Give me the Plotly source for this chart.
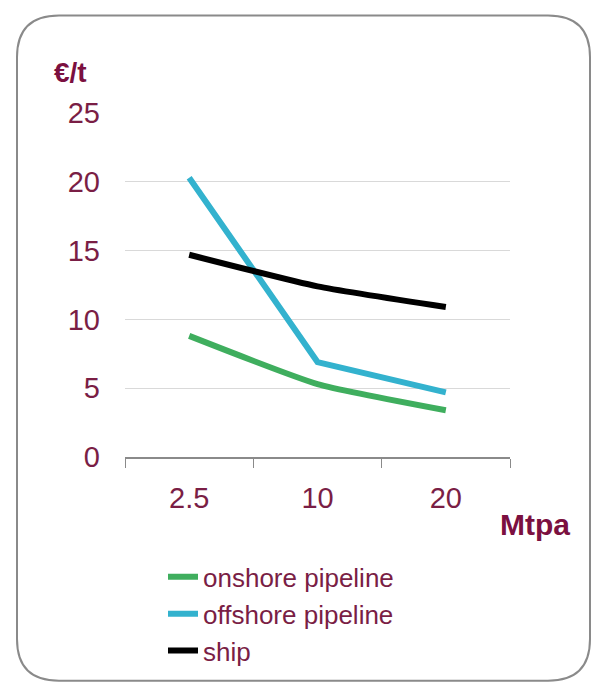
import plotly.graph_objects as go

categories = ["2.5", "10", "20"]
onshore = [8.8, 5.3, 3.4]
offshore = [20.3, 6.9, 4.7]
ship = [14.7, 12.4, 10.9]
series_names = ["onshore pipeline", "offshore pipeline", "ship"]
y_ticks = [0, 5, 10, 15, 20, 25]

W, H = 594, 686
L, R, T, B = 125, 510, 113, 459

def px(x):
    return (x - L) / (R - L)

def py(y):
    return (B - y) / (B - T)

TICK_COL = "#7A1E45"
BOLD_COL = "#7B1040"

fig = go.Figure()
fig.add_trace(go.Scatter(x=categories, y=onshore, name=series_names[0], mode="lines",
                         line=dict(color="#3FAE5E", width=6, shape="spline", smoothing=0.5)))
fig.add_trace(go.Scatter(x=categories, y=offshore, name=series_names[1], mode="lines",
                         line=dict(color="#33B2CE", width=6)))
fig.add_trace(go.Scatter(x=categories, y=ship, name=series_names[2], mode="lines",
                         line=dict(color="#000000", width=6, shape="spline", smoothing=0.5)))

# rounded border
x0, x1, y0, y1, r = 17, 590, 15, 684, 42
path = (f"M {px(x0+r)},{py(y0)} L {px(x1-r)},{py(y0)} "
        f"Q {px(x1)},{py(y0)} {px(x1)},{py(y0+r)} L {px(x1)},{py(y1-r)} "
        f"Q {px(x1)},{py(y1)} {px(x1-r)},{py(y1)} L {px(x0+r)},{py(y1)} "
        f"Q {px(x0)},{py(y1)} {px(x0)},{py(y1-r)} L {px(x0)},{py(y0+r)} "
        f"Q {px(x0)},{py(y0)} {px(x0+r)},{py(y0)} Z")

fig.update_layout(
    width=W, height=H,
    margin=dict(l=L, r=W - R, t=T, b=H - B),
    paper_bgcolor="white", plot_bgcolor="white",
    font=dict(family="Arial, Liberation Sans, sans-serif", color=TICK_COL),
    showlegend=True,
    legend=dict(x=px(163), y=py(556), xanchor="left", yanchor="top",
                font=dict(size=26, color=TICK_COL), tracegroupgap=0,
                bgcolor="rgba(0,0,0,0)", itemwidth=30),
    shapes=[dict(type="path", path=path, xref="paper", yref="paper",
                 line=dict(color="#8A8A8A", width=2), layer="below")],
    annotations=[
        dict(text="<b>€/t</b>", x=px(52), y=py(72), xref="paper", yref="paper",
             xanchor="left", yanchor="middle", showarrow=False,
             font=dict(size=28, color=BOLD_COL)),
        dict(text="<b>Mtpa</b>", x=px(498), y=py(527), xref="paper", yref="paper",
             xanchor="left", yanchor="middle", showarrow=False,
             font=dict(size=30, color=BOLD_COL)),
    ],
)
fig.update_xaxes(type="category", range=[-0.5, 2.5], showgrid=False, showline=True,
                 linecolor="#8A8A8A", linewidth=1.5, ticks="outside", tickson="boundaries",
                 ticklen=9, tickcolor="#8A8A8A", tickfont=dict(size=29, color=TICK_COL),
                 ticklabelstandoff=14, zeroline=False)
fig.update_yaxes(range=[0, 25], tickvals=y_ticks, showgrid=True, gridcolor="#D9D9D9",
                 gridwidth=1, zeroline=False, showline=False,
                 tickfont=dict(size=29, color=TICK_COL), ticklabelstandoff=24)

fig.write_html("out.html")
